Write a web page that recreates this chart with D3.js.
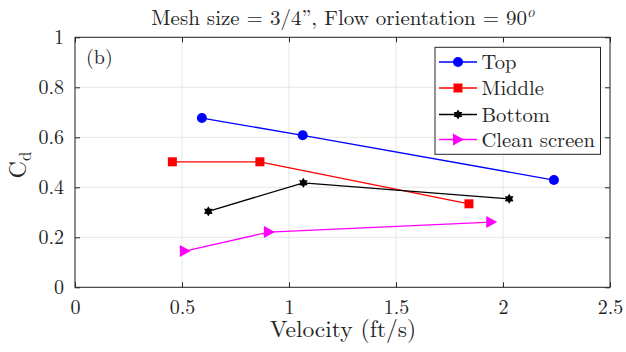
<!DOCTYPE html>
<html><head><meta charset="utf-8">
<script src="https://cdn.jsdelivr.net/npm/d3@7"></script>
<style>body{margin:0;background:#fff}svg{display:block}</style>
</head><body><svg id="c" width="626" height="352"></svg>
<script>
const seriesNames = ["Top","Middle","Bottom","Clean screen"];
const seriesColors = ["#0000ff","#ff0000","#000000","#ff00ff"];
const topX = [0.593,1.064,2.238], topY = [0.677,0.608,0.429];
const midX = [0.455,0.864,1.841], midY = [0.502,0.502,0.334];
const botX = [0.623,1.067,2.029], botY = [0.304,0.418,0.354];
const clnX = [0.513,0.906,1.945], clnY = [0.145,0.221,0.261];
const xTicks = [0,0.5,1,1.5,2,2.5];
const yTicks = [0,0.2,0.4,0.6,0.8,1];
const xTickLabels = ["0","0.5","1","1.5","2","2.5"];
const yTickLabels = ["0","0.2","0.4","0.6","0.8","1"];

const FONT = '"Latin Modern Roman","Liberation Serif",serif';
const TXT = "#262626";
const svg = d3.select("#c");
const L=75,R=610,T=37.3,B=287.3;
const x = d3.scaleLinear().domain([0,2.5]).range([L,R]);
const y = d3.scaleLinear().domain([0,1]).range([B,T]);

// grid
const g = svg.append("g");
g.selectAll(".gx").data(xTicks).enter().append("line")
 .attr("x1",d=>x(d)).attr("x2",d=>x(d)).attr("y1",T).attr("y2",B)
 .attr("stroke","#e6e6e6").attr("stroke-width",1);
g.selectAll(".gy").data(yTicks).enter().append("line")
 .attr("y1",d=>y(d)).attr("y2",d=>y(d)).attr("x1",L).attr("x2",R)
 .attr("stroke","#e6e6e6").attr("stroke-width",1);

// axes
const ax = d3.axisBottom(x).tickValues(xTicks).tickFormat((d,i)=>xTickLabels[i]).tickSize(-5).tickPadding(13);
const ay = d3.axisLeft(y).tickValues(yTicks).tickFormat((d,i)=>yTickLabels[i]).tickSize(-5).tickPadding(11);
const ax2 = d3.axisTop(x).tickValues(xTicks).tickFormat("").tickSize(-5);
const ay2 = d3.axisRight(y).tickValues(yTicks).tickFormat("").tickSize(-5);
function style(sel){sel.attr("font-family",null);sel.select(".domain").remove();sel.selectAll("line").attr("stroke","#262626");sel.selectAll("text").style("font-size","20px").style("fill",TXT).style("font-family",FONT);}
svg.append("g").attr("transform",`translate(0,${B})`).call(ax).call(style);
svg.append("g").attr("transform",`translate(${L},0)`).call(ay).call(style);
svg.append("g").attr("transform",`translate(0,${T})`).call(ax2).call(style);
svg.append("g").attr("transform",`translate(${R},0)`).call(ay2).call(style);
svg.append("rect").attr("x",L).attr("y",T).attr("width",R-L).attr("height",B-T)
 .attr("fill","none").attr("stroke","#262626").attr("stroke-width",1);

function star6(cx,cy,ro,ri){
  const p=[];for(let k=0;k<12;k++){const r=k%2?ri:ro;const a=-Math.PI/2+k*Math.PI/6;p.push([cx+r*Math.cos(a),cy+r*Math.sin(a)]);}
  return "M"+p.map(q=>q.join(",")).join("L")+"Z";
}
const data = [[topX,topY],[midX,midY],[botX,botY],[clnX,clnY]];
const line = d3.line();
function marker(sel,i,cx,cy){
  const c=seriesColors[i];
  if(i===0) sel.append("circle").attr("cx",cx).attr("cy",cy).attr("r",5).attr("fill",c);
  else if(i===1) sel.append("rect").attr("x",cx-4.5).attr("y",cy-4.5).attr("width",9).attr("height",9).attr("fill",c);
  else if(i===2) sel.append("path").attr("d",star6(cx,cy,5,3)).attr("fill",c);
  else sel.append("path").attr("d",`M${cx-5},${cy-6}L${cx+6},${cy}L${cx-5},${cy+6}Z`).attr("fill",c);
}
data.forEach(([xs,ys],i)=>{
  const pts = xs.map((v,k)=>[x(v),y(ys[k])]);
  svg.append("path").attr("d",line(pts)).attr("fill","none").attr("stroke",seriesColors[i]).attr("stroke-width",1.3);
  const mg=svg.append("g");
  pts.forEach(p=>marker(mg,i,p[0],p[1]));
});

function txt(xp,yp,size,s,anchor){return svg.append("text").attr("x",xp).attr("y",yp).attr("text-anchor",anchor||"start").style("font-family",FONT).style("font-size",size+"px").style("fill",TXT).text(s);}
// (b)
txt(86,63.5,20,"(b)");

// legend
svg.append("rect").attr("x",435).attr("y",47.3).attr("width",165.5).attr("height",107).attr("fill","#fff").attr("stroke","#262626").attr("stroke-width",1);
const ly=[62,88,114.5,139.5];
seriesNames.forEach((n,i)=>{
  svg.append("line").attr("x1",439).attr("x2",477).attr("y1",ly[i]).attr("y2",ly[i]).attr("stroke",seriesColors[i]).attr("stroke-width",1.3);
  marker(svg.append("g"),i,458,ly[i]);
  txt(481.5,ly[i]+7,20.6,n);
});

// title
const t = txt(343,25,21,"","middle");
t.append("tspan").text("Mesh size = 3/4\u201D, Flow orientation = 90");
t.append("tspan").style("font-style","italic").style("font-size","15px").attr("dy",-8).text("o");

// x label
txt(343,337,23.5,"Velocity (ft/s)","middle");
// y label
const yl = svg.append("text").attr("transform","translate(26,165) rotate(-90)").attr("text-anchor","middle").style("font-family",FONT).style("font-size","24px").style("fill",TXT);
yl.append("tspan").text("C");
yl.append("tspan").style("font-size","17px").attr("dy",5).text("d");
</script></body></html>
